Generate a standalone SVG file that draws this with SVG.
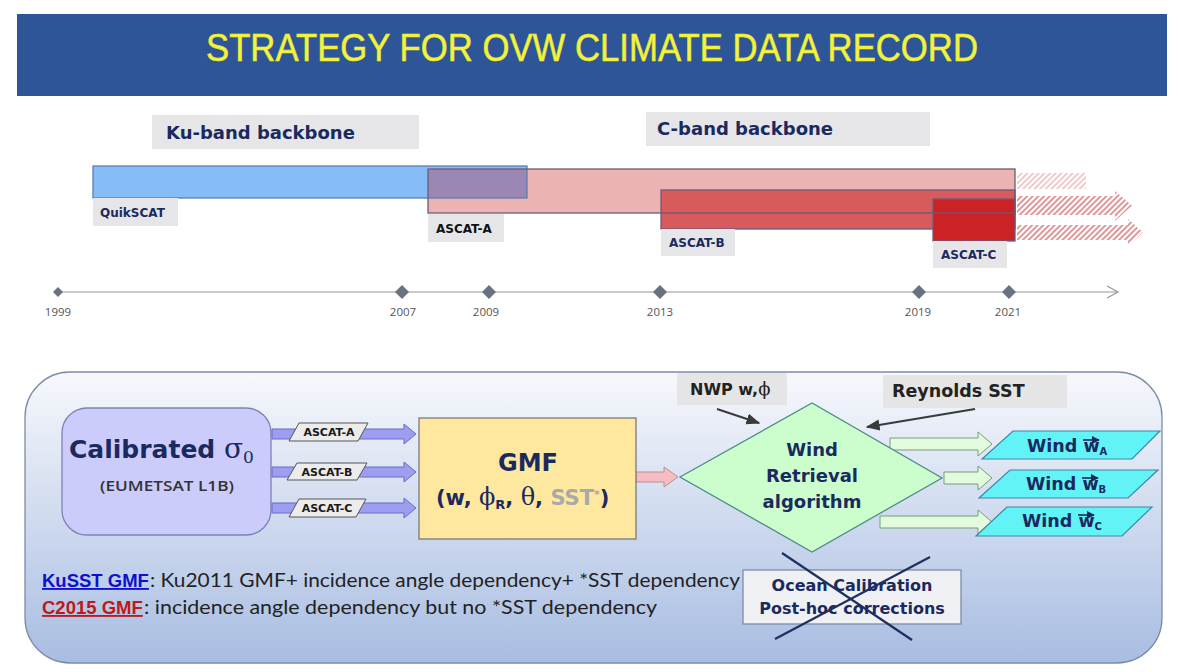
<svg xmlns="http://www.w3.org/2000/svg" width="1182" height="672" viewBox="0 0 1182 672">
<defs>
<style>
.geo{font-family:"DejaVu Sans","Liberation Sans",sans-serif;font-weight:bold;fill:#1b2a5e}
.yr{font-family:"Open Sans","Liberation Sans",sans-serif;font-size:11.5px;fill:#555;text-anchor:middle}
.lbl{fill:#e6e6e9}
.dia{fill:#687280}
.bar{stroke:#6e5a78;stroke-width:1.3}
.sym{font-family:"DejaVu Serif","Liberation Serif",serif;font-weight:normal}
.cal{font-family:Lato,"Liberation Sans",sans-serif;font-size:19px;fill:#222}
</style>
<pattern id="hatchL" patternUnits="userSpaceOnUse" width="4" height="4" patternTransform="rotate(45)">
<line x1="1" y1="0" x2="1" y2="4" stroke="#e7b3b3" stroke-width="1.4"/>
</pattern>
<pattern id="hatchR" patternUnits="userSpaceOnUse" width="4" height="4" patternTransform="rotate(45)">
<line x1="1" y1="0" x2="1" y2="4" stroke="#d36a6e" stroke-width="1.4"/>
</pattern>
<linearGradient id="panelG" x1="0" y1="0" x2="0" y2="1">
<stop offset="0" stop-color="#f7f8fc"/>
<stop offset="1" stop-color="#a8bde2"/>
</linearGradient>
<marker id="ah" viewBox="0 0 10 10" refX="9" refY="5" markerWidth="7" markerHeight="7" orient="auto">
<path d="M0,1 L10,5 L0,9 z" fill="#3a3a3a"/>
</marker>
<marker id="vec" viewBox="0 0 10 10" refX="9" refY="5" markerWidth="5" markerHeight="5" orient="auto">
<path d="M0,0 L10,5 L0,10 z" fill="#1b2a5e"/>
</marker>
</defs>
<rect x="0" y="0" width="1182" height="672" fill="#ffffff"/>

<g id="header">
<rect x="17" y="14" width="1150" height="82" fill="#2e5597"/>
<text x="206" y="61" font-family="'Liberation Sans',sans-serif" font-size="38" fill="#f4f43c" stroke="#e6e640" stroke-width="0.6" textLength="772" lengthAdjust="spacingAndGlyphs">STRATEGY FOR OVW CLIMATE DATA RECORD</text>
</g>

<g id="ku-band-label">
<rect x="152" y="115" width="267" height="34" class="lbl"/>
<text x="166" y="139" class="geo" font-size="18">Ku-band backbone</text>
</g>
<g id="c-band-label">
<rect x="646" y="112" width="284" height="34" class="lbl"/>
<text x="657" y="135" class="geo" font-size="18">C-band backbone</text>
</g>

<g id="hatched-extensions">
<rect x="1017" y="173" width="69" height="16" fill="url(#hatchL)"/>
<polygon points="1017,196 1115,196 1115,191 1132,205.5 1115,221 1115,215 1017,215" fill="url(#hatchR)"/>
<polygon points="1017,225 1128,225 1128,219 1143,232.5 1128,246 1128,240 1017,240" fill="url(#hatchR)"/>
</g>

<g id="ascat-a">
<rect x="428" y="169" width="587" height="44" fill="#ecb3b3"/>
</g>
<g id="quikscat">
<rect x="93" y="166" width="434" height="32" fill="#86bdf6"/>
<rect x="428" y="169" width="99" height="29" fill="#9a87b3"/>
<rect x="93" y="166" width="434" height="32" fill="none" stroke="#5d7db2" stroke-width="1.3"/>
<rect x="93" y="198" width="85" height="28" class="lbl"/>
<text x="100" y="217" class="geo" font-size="12">QuikSCAT</text>
</g>
<g id="ascat-b">
<rect x="661" y="190" width="354" height="39" fill="#d75a5c" class="bar"/>
<rect x="661" y="229" width="74" height="27" class="lbl"/>
<text x="669" y="247" class="geo" font-size="12">ASCAT-B</text>
</g>
<g id="ascat-c">
<rect x="933" y="199" width="82" height="42" fill="#cb2226" class="bar"/>
<rect x="933" y="241" width="74" height="27" class="lbl"/>
<text x="941" y="259" class="geo" font-size="12">ASCAT-C</text>
</g>
<g id="ascat-a-outline">
<rect x="428" y="169" width="587" height="44" fill="none" class="bar"/>
<rect x="428" y="214" width="76" height="28" class="lbl"/>
<text x="436" y="233" class="geo" font-size="12" style="fill:#111">ASCAT-A</text>
</g>

<g id="timeline">
<line x1="58" y1="292" x2="1118" y2="292" stroke="#b9b9b9" stroke-width="1.5"/>
<polyline points="1107,286 1118,292 1107,298" fill="none" stroke="#9a9a9a" stroke-width="1.3"/>
<polygon class="dia" points="58,287 63,292 58,297 53,292"/>
<polygon class="dia" points="402,285 409,292 402,299 395,292"/>
<polygon class="dia" points="489,285 496,292 489,299 482,292"/>
<polygon class="dia" points="660,285 667,292 660,299 653,292"/>
<polygon class="dia" points="919,285 926,292 919,299 912,292"/>
<polygon class="dia" points="1009,285 1016,292 1009,299 1002,292"/>
<text class="yr" x="58" y="316">1999</text>
<text class="yr" x="403" y="316">2007</text>
<text class="yr" x="486" y="316">2009</text>
<text class="yr" x="660" y="316">2013</text>
<text class="yr" x="918" y="316">2019</text>
<text class="yr" x="1008" y="316">2021</text>
</g>

<g id="panel">
<rect x="25" y="372" width="1137" height="291" rx="45" ry="45" fill="url(#panelG)" stroke="#7d8ca6" stroke-width="1.3"/>
</g>

<g id="calibrated">
<rect x="62" y="408" width="209" height="127" rx="25" ry="25" fill="#ccccfc" stroke="#7d82b4" stroke-width="1.3"/>
<text x="69" y="458" class="geo" font-size="25">Calibrated <tspan class="sym" font-size="28">σ</tspan><tspan class="sym" font-size="17" dy="5">0</tspan></text>
<text x="167" y="491" font-family="'Open Sans',sans-serif" font-weight="600" font-size="15" fill="#333" text-anchor="middle" textLength="134" lengthAdjust="spacingAndGlyphs">(EUMETSAT L1B)</text>
</g>

<g id="connectors">
<g fill="#9d9df2" stroke="#6a6ac6" stroke-width="1">
<polygon points="272,429 404,429 404,424 416,434 404,444 404,439 272,439"/>
<polygon points="272,467 404,467 404,462 416,472 404,482 404,477 272,477"/>
<polygon points="272,503 404,503 404,498 416,508 404,518 404,513 272,513"/>
</g>
<g fill="#ececec" stroke="#555" stroke-width="1">
<polygon points="289,441 299,423 368,423 358,441"/>
<polygon points="287,480 297,463 367,463 357,480"/>
<polygon points="289,517 299,499 366,499 356,517"/>
</g>
<g class="geo" font-size="11" style="fill:#1a1a1a" text-anchor="middle">
<text x="329" y="436">ASCAT-A</text>
<text x="327" y="476">ASCAT-B</text>
<text x="327" y="512">ASCAT-C</text>
</g>
<polygon points="636,472 664,472 664,467 678,477 664,487 664,482 636,482" fill="#f6bcc4" stroke="#c48a90" stroke-width="1"/>
<g fill="#e2fbdc" stroke="#73a07a" stroke-width="1">
<polygon points="890,438 978,438 978,432 992,444 978,456 978,450 890,450"/>
<polygon points="944,472 978,472 978,466 992,478 978,490 978,484 944,484"/>
<polygon points="880,516 978,516 978,510 992,522 978,534 978,528 880,528"/>
</g>
<line x1="717" y1="409" x2="759" y2="423" stroke="#3a3a3a" stroke-width="2" marker-end="url(#ah)"/>
<line x1="975" y1="409" x2="867" y2="427" stroke="#3a3a3a" stroke-width="2" marker-end="url(#ah)"/>
</g>

<g id="gmf">
<rect x="419" y="418" width="217" height="121" fill="#fee79e" stroke="#7a7a7a" stroke-width="1.3"/>
<text x="528" y="471" class="geo" font-size="24" text-anchor="middle">GMF</text>
<text x="436" y="505" class="geo" font-size="21">(w, <tspan class="sym" font-size="24">ϕ</tspan><tspan font-size="13" dy="4">R</tspan><tspan dy="-4">, </tspan><tspan class="sym" font-size="24">θ</tspan>, <tspan style="fill:#a9a9a9">SST</tspan><tspan style="fill:#a9a9a9" font-size="11" dy="-7">*</tspan><tspan dy="7">)</tspan></text>
</g>

<g id="nwp">
<rect x="677" y="373" width="110" height="32" fill="#e5e5e5"/>
<text x="690" y="395" class="geo" font-size="16" style="fill:#222">NWP w,<tspan class="sym" font-size="18">ϕ</tspan></text>
</g>
<g id="reynolds">
<rect x="883" y="375" width="184" height="33" fill="#e5e5e5"/>
<text x="892" y="397" class="geo" font-size="17.5" style="fill:#222">Reynolds SST</text>
</g>

<g id="wind-retrieval">
<polygon points="680,477 812,403 942,478 812,552" fill="#ccfdcc" stroke="#4e8c8a" stroke-width="1.3"/>
<g class="geo" font-size="18" text-anchor="middle">
<text x="812" y="456">Wind</text>
<text x="812" y="482">Retrieval</text>
<text x="812" y="508">algorithm</text>
</g>
</g>

<g id="wind-a">
<polygon points="982,459 1013,431 1160,431 1132,459" fill="#62f3f6" stroke="#3f86a3" stroke-width="1.2"/>
<text x="1027" y="452" class="geo" font-size="17.5">Wind w<tspan font-size="10" dy="3">A</tspan></text>
<line x1="1083" y1="440" x2="1099" y2="440" stroke="#1b2a5e" stroke-width="1.6" marker-end="url(#vec)"/>
</g>
<g id="wind-b">
<polygon points="979,498 1010,470 1158,470 1128,498" fill="#62f3f6" stroke="#3f86a3" stroke-width="1.2"/>
<text x="1026" y="490" class="geo" font-size="17.5">Wind w<tspan font-size="10" dy="3">B</tspan></text>
<line x1="1082" y1="478" x2="1098" y2="478" stroke="#1b2a5e" stroke-width="1.6" marker-end="url(#vec)"/>
</g>
<g id="wind-c">
<polygon points="976,536 1007,507 1152,507 1122,536" fill="#62f3f6" stroke="#3f86a3" stroke-width="1.2"/>
<text x="1022" y="527" class="geo" font-size="17.5">Wind w<tspan font-size="10" dy="3">C</tspan></text>
<line x1="1078" y1="515" x2="1094" y2="515" stroke="#1b2a5e" stroke-width="1.6" marker-end="url(#vec)"/>
</g>

<g id="ocean-calibration">
<rect x="743" y="570" width="218" height="54" fill="#eff0f4" stroke="#7d8ca6" stroke-width="1.3"/>
<g class="geo" font-size="16" text-anchor="middle">
<text x="852" y="591">Ocean Calibration</text>
<text x="852" y="614">Post-hoc corrections</text>
</g>
<line x1="782" y1="553" x2="912" y2="640" stroke="#1f2f5f" stroke-width="2.2"/>
<line x1="930" y1="557" x2="775" y2="639" stroke="#1f2f5f" stroke-width="2.2"/>
</g>

<g id="notes">
<text x="42" y="587" font-family="'Liberation Sans',Arial,sans-serif" font-weight="bold" font-size="18.5" fill="#1010cc" text-decoration="underline">KuSST GMF</text>
<text x="150" y="587" class="cal" textLength="590" lengthAdjust="spacingAndGlyphs">: Ku2011 GMF+ incidence angle dependency+ *SST dependency</text>
<text x="42" y="614" font-family="'Liberation Sans',Arial,sans-serif" font-weight="bold" font-size="18.5" fill="#c01818" text-decoration="underline">C2015 GMF</text>
<text x="144" y="614" class="cal" textLength="513" lengthAdjust="spacingAndGlyphs">: incidence angle dependency but no *SST dependency</text>
</g>
</svg>
